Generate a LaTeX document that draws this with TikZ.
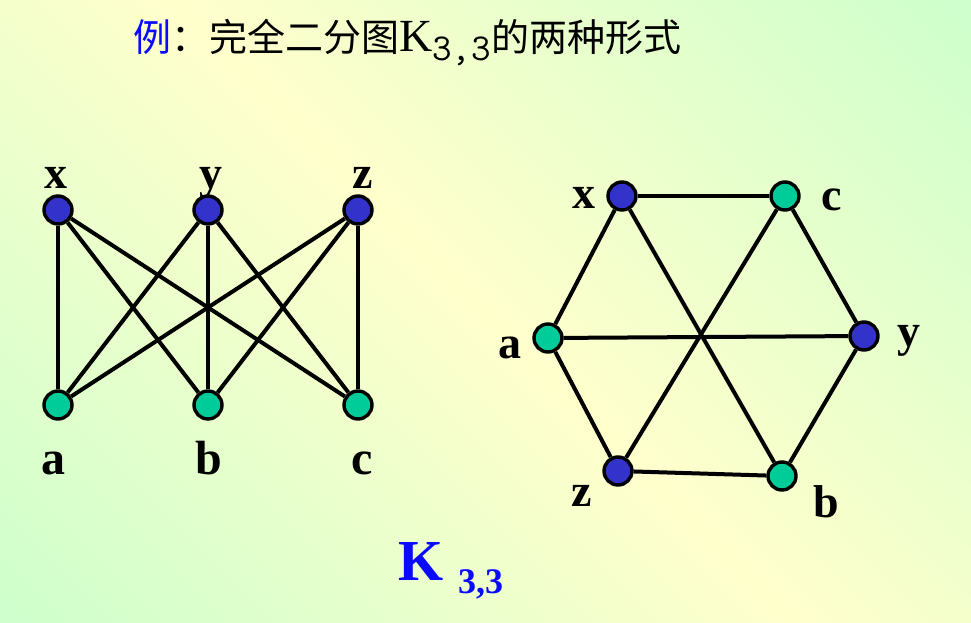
\documentclass[tikz,border=0pt]{standalone}
\usepackage{fontspec}
\setmainfont{Liberation Serif}
\newfontfamily\cjk{Noto Sans CJK SC}
\usetikzlibrary{positioning}

\definecolor{bgyellow}{RGB}{255,255,204}
\definecolor{bggreen}{RGB}{206,255,204}
\definecolor{vblue}{RGB}{51,51,204}
\definecolor{vteal}{RGB}{0,204,153}
\definecolor{kblue}{RGB}{10,10,255}
\pgfdeclareverticalshading{bgshade}{100bp}{color(0bp)=(bggreen); color(15bp)=(bggreen); color(50bp)=(bgyellow); color(85bp)=(bggreen); color(100bp)=(bggreen)}

\begin{document}
\begin{tikzpicture}[x=1pt, y=-1pt, node distance=150pt]
	\tikzstyle{every node}=[inner sep=0pt]
	\tikzstyle{xvert}=[circle,draw=black,line width=3.4pt,fill=vblue,minimum size=28pt]
	\tikzstyle{avert}=[circle,draw=black,line width=3.4pt,fill=vteal,minimum size=28pt]
	\tikzstyle{lab}=[anchor=base,font=\bfseries\fontsize{46}{46}\selectfont]
	\tikzstyle{link}=[draw=black,line width=4pt]
	% background
	\shade[shading=bgshade,shading angle=-45] (0,0) rectangle (971,623);
	\useasboundingbox (0,0) rectangle (971,623);
	% title
	\node[anchor=base west] (title) at (133,52) {\fontsize{38}{38}\selectfont{\cjk\color{kblue}例}{\cjk ：完全二分图}{\fontsize{46}{46}\selectfont K}\raisebox{-9pt}{\ttfamily 3,3}{\cjk 的两种形式}};
	% first form
	\node[xvert]    (x1) at (58,210)  {};
	\node[xvert]    (y1)[right of=x1] {};
	\node[xvert]    (z1)[right of=y1] {};
	\node[avert]    (a1) at (58,405)  {};
	\node[avert]    (b1)[right of=a1] {};
	\node[avert]    (c1)[right of=b1] {};
	\node[lab] (lx1) at (56,188)  {x};
	\node[lab] (ly1) at (211,188) {y};
	\node[lab] (lz1) at (363,188) {z};
	\node[lab,font=\bfseries\fontsize{48}{48}\selectfont] (la1) at (53,474)  {a};
	\node[lab,font=\bfseries\fontsize{48}{48}\selectfont] (lb1) at (209,474) {b};
	\node[lab,font=\bfseries\fontsize{48}{48}\selectfont] (lc1) at (362,474) {c};
	\path
	(x1) edge[link] (a1)
	(x1) edge[link] (b1)
	(x1) edge[link] (c1)
	(y1) edge[link] (a1)
	(y1) edge[link] (b1)
	(y1) edge[link] (c1)
	(z1) edge[link] (a1)
	(z1) edge[link] (b1)
	(z1) edge[link] (c1);
	% second form
	\node[xvert]    (x2) at (622,196) {};
	\node[avert]    (c2) at (785,196) {};
	\node[avert]    (a2) at (548,338) {};
	\node[xvert]    (y2) at (864,336) {};
	\node[xvert]    (z2) at (618,471) {};
	\node[avert]    (b2) at (782,476) {};
	\node[lab] (lx2) at (584,208) {x};
	\node[lab] (lc2) at (832,210) {c};
	\node[lab] (la2) at (510,358) {a};
	\node[lab] (ly2) at (909,346) {y};
	\node[lab] (lz2) at (582,506) {z};
	\node[lab] (lb2) at (826,517) {b};
	\path
	(x2) edge[link] (c2)
	(c2) edge[link] (y2)
	(y2) edge[link] (b2)
	(b2) edge[link] (z2)
	(z2) edge[link] (a2)
	(a2) edge[link] (x2)
	(x2) edge[link] (b2)
	(c2) edge[link] (z2)
	(a2) edge[link] (y2);
	% name
	\node[anchor=base west,text=kblue,font=\bfseries\fontsize{58}{58}\selectfont] (kname) at (398,580) {K};
	\node[anchor=base west,text=kblue,font=\bfseries\fontsize{36}{36}\selectfont] (ksub) at (458,593) {3,3};
\end{tikzpicture}
\end{document}
